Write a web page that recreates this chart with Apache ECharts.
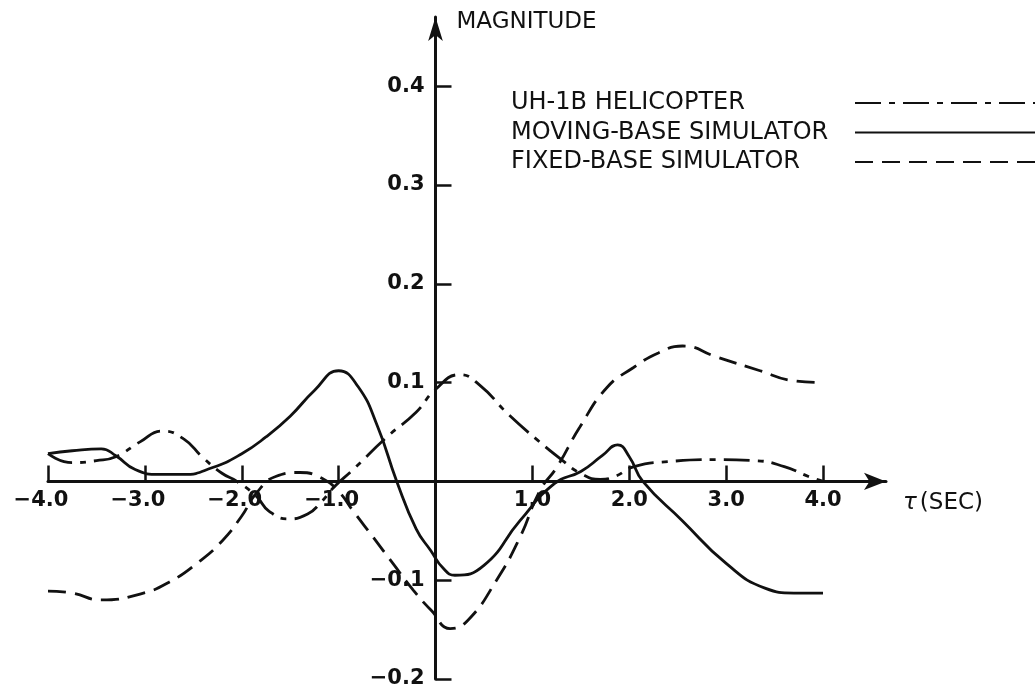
<!doctype html>
<html>
    <head>
        <meta charset="utf-8">
        <title>Magnitude vs tau</title>
        <style>
            html, body { margin: 0; padding: 0; background: #fff; }
            #main { width: 1035px; height: 696px; }
        </style>
    </head>
    <body>
        <div id="main"></div>
        <script src="https://cdn.jsdelivr.net/npm/echarts@6/dist/echarts.min.js"></script>
        <script>
            // series values as [tau, magnitude]
            var heliData = [
                [-4.0, 0.028], [-3.75, 0.019], [-3.5, 0.021], [-3.3, 0.025], [-3.05, 0.04],
                [-2.82, 0.051], [-2.6, 0.043], [-2.4, 0.024], [-2.2, 0.008], [-2.05, 0.0],
                [-1.85, -0.015], [-1.72, -0.03], [-1.52, -0.038], [-1.32, -0.033], [-1.18, -0.021],
                [-1.05, -0.006], [-0.85, 0.012], [-0.5, 0.045], [-0.2, 0.07], [0.0, 0.093],
                [0.25, 0.108], [0.45, 0.098], [0.75, 0.068], [1.05, 0.042],
                [1.3, 0.022], [1.5, 0.008], [1.7, 0.002], [1.85, 0.005], [2.05, 0.015],
                [2.4, 0.02], [2.9, 0.022], [3.3, 0.021], [3.6, 0.015], [3.85, 0.005], [4.0, 0.0]
            ];
            var movingData = [
                [-4.0, 0.028], [-3.75, 0.031], [-3.45, 0.033], [-3.3, 0.026], [-3.1, 0.012],
                [-2.85, 0.007], [-2.6, 0.007], [-2.3, 0.014], [-2.0, 0.028], [-1.75, 0.045],
                [-1.5, 0.066], [-1.25, 0.092], [-1.0, 0.112], [-0.8, 0.096],
                [-0.6, 0.056], [-0.4, 0.0], [-0.2, -0.048], [-0.05, -0.07], [0.08, -0.088], [0.2, -0.095],
                [0.5, -0.085], [0.87, -0.04], [1.23, -0.002],
                [1.5, 0.01], [1.72, 0.026], [1.88, 0.037], [2.0, 0.025],
                [2.14, 0.0], [2.55, -0.04], [3.0, -0.083], [3.4, -0.108], [3.7, -0.113], [4.0, -0.113]
            ];
            var fixedData = [
                [-4.0, -0.111], [-3.75, -0.113], [-3.45, -0.12], [-3.05, -0.114],
                [-2.75, -0.102], [-2.45, -0.082], [-2.2, -0.06], [-2.0, -0.035], [-1.85, -0.012],
                [-1.65, 0.005], [-1.4, 0.009], [-1.15, 0.002], [-1.0, -0.01],
                [-0.85, -0.03], [-0.64, -0.057], [-0.44, -0.083], [-0.23, -0.11], [-0.04, -0.131],
                [0.15, -0.149], [0.33, -0.141], [0.63, -0.1], [0.87, -0.057], [1.08, -0.009],
                [1.25, 0.014], [1.49, 0.055], [1.77, 0.095], [2.04, 0.115], [2.3, 0.13],
                [2.55, 0.137], [2.9, 0.126], [3.35, 0.112], [3.69, 0.102], [4.0, 0.1]
            ];

            var seriesNames = ['UH-1B HELICOPTER', 'MOVING-BASE SIMULATOR', 'FIXED-BASE SIMULATOR'];

            // tick labels
            var xTickValues = [-4, -3, -2, -1, 1, 2, 3, 4];
            var xTickLabels = ['\u22124.0', '\u22123.0', '\u22122.0', '\u22121.0', '1.0', '2.0', '3.0', '4.0'];
            var yTickValues = [-0.2, -0.1, 0.1, 0.2, 0.3, 0.4];
            var yTickLabels = ['\u22120.2', '\u22120.1', '0.1', '0.2', '0.3', '0.4'];

            var ink = '#111';
            var font = 'DejaVu Sans';

            // the axes cross at the origin; these shift them there from the grid edges
            var yAxisShift = -387.5;
            var xAxisShift = -197.6;

            function lookup(values, labels, v) {
                for (var i = 0; i < values.length; i++) {
                    if (Math.abs(values[i] - v) < 1e-6) return labels[i];
                }
                return '';
            }

            var chart = echarts.init(document.getElementById('main'));

            chart.setOption({
                backgroundColor: '#fff',
                animation: false,
                grid: {
                    left: 48,
                    right: 149,
                    top: 17,
                    bottom: 17,
                    containLabel: false,
                    outerBoundsMode: 'none'
                },
                legend: {
                    data: seriesNames,
                    orient: 'vertical',
                    align: 'right',
                    left: 511,
                    top: 91,
                    padding: 0,
                    itemGap: 5.5,
                    itemWidth: 185,
                    itemHeight: 14,
                    selectedMode: false,
                    itemStyle: { opacity: 0, borderWidth: 0 },
                    formatter: function (name) {
                        return '{a|' + name + '}';
                    },
                    textStyle: {
                        rich: {
                            a: {
                                width: 339,
                                align: 'left',
                                fontSize: 24,
                                lineHeight: 24,
                                fontFamily: font,
                                color: ink
                            }
                        }
                    }
                },
                xAxis: {
                    type: 'value',
                    min: -4,
                    max: 4.65,
                    position: 'bottom',
                    offset: xAxisShift,
                    name: '{t|\u03c4}(SEC)',
                    nameLocation: 'end',
                    nameGap: 17,
                    nameTextStyle: {
                        padding: [44, 0, 0, 0],
                        rich: {
                            t: { fontSize: 23, fontFamily: font, fontStyle: 'italic', color: ink, padding: [0, 3, 0, 0] }
                        },
                        fontSize: 23,
                        fontFamily: font,
                        color: ink
                    },
                    axisLine: {
                        onZero: false,
                        symbol: ['none', 'arrow'],
                        symbolSize: [13, 22],
                        lineStyle: { color: ink, width: 3 }
                    },
                    axisTick: {
                        inside: true,
                        length: 16,
                        customValues: xTickValues,
                        lineStyle: { color: ink, width: 2.5 }
                    },
                    axisLabel: {
                        margin: 9,
                        customValues: xTickValues,
                        formatter: function (v) {
                            var s = lookup(xTickValues, xTickLabels, v);
                            return v < 0 ? '{n|' + s + '}' : '{p|' + s + '}';
                        },
                        rich: {
                            n: { fontSize: 21, fontWeight: 'bold', fontFamily: font, color: ink, padding: [0, 14, 0, 0] },
                            p: { fontSize: 21, fontWeight: 'bold', fontFamily: font, color: ink }
                        }
                    },
                    splitLine: { show: false }
                },
                yAxis: {
                    type: 'value',
                    min: -0.2,
                    max: 0.47,
                    position: 'left',
                    offset: yAxisShift,
                    name: 'MAGNITUDE',
                    nameLocation: 'end',
                    nameGap: -5,
                    nameTextStyle: {
                        align: 'left',
                        verticalAlign: 'middle',
                        padding: [0, 0, 0, 21],
                        fontSize: 23,
                        fontFamily: font,
                        color: ink
                    },
                    axisLine: {
                        onZero: false,
                        symbol: ['none', 'arrow'],
                        symbolSize: [11, 24],
                        lineStyle: { color: ink, width: 3 }
                    },
                    axisTick: {
                        inside: true,
                        length: 16,
                        customValues: yTickValues,
                        lineStyle: { color: ink, width: 2.5 }
                    },
                    axisLabel: {
                        margin: 11,
                        customValues: yTickValues,
                        fontSize: 21,
                        fontWeight: 'bold',
                        fontFamily: font,
                        color: ink,
                        formatter: function (v) {
                            return lookup(yTickValues, yTickLabels, v);
                        }
                    },
                    splitLine: { show: false }
                },
                series: [{
                    name: seriesNames[0],
                    type: 'line',
                    data: heliData,
                    smooth: 0.5,
                    symbol: 'none',
                    lineStyle: { color: ink, width: 2.8, type: [26, 8, 6, 8] }
                }, {
                    name: seriesNames[1],
                    type: 'line',
                    data: movingData,
                    smooth: 0.5,
                    symbol: 'none',
                    lineStyle: { color: ink, width: 2.8, type: 'solid' }
                }, {
                    name: seriesNames[2],
                    type: 'line',
                    data: fixedData,
                    smooth: 0.5,
                    symbol: 'none',
                    lineStyle: { color: ink, width: 2.8, type: [18, 9] }
                }]
            });

            window.addEventListener('resize', function () {
                chart.resize();
            });
        </script>
    </body>
</html>
